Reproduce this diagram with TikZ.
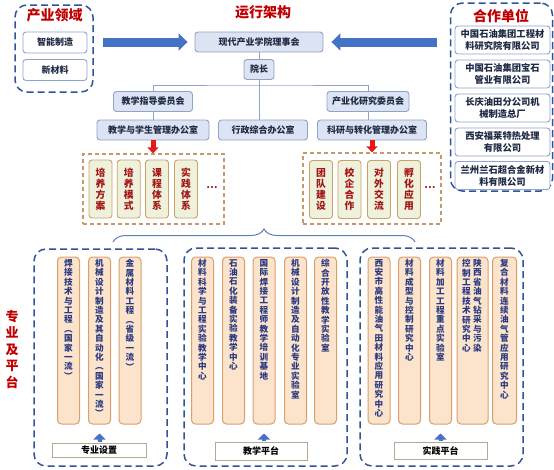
\documentclass[tikz,border=0pt]{standalone}
\usepackage{fontspec}
\setmainfont{Noto Sans CJK SC}
\usetikzlibrary{arrows.meta, positioning, decorations.pathreplacing}

\definecolor{dblue}{HTML}{2F5597}
\definecolor{boxfill}{HTML}{DCE3F2}
\definecolor{boxline}{HTML}{8FA3CC}
\definecolor{txtdark}{HTML}{1F2A44}
\definecolor{titlered}{HTML}{C00000}
\definecolor{arrowblue}{HTML}{4472C4}
\definecolor{arrowred}{HTML}{E81818}
\definecolor{orangedash}{HTML}{C59A6A}
\definecolor{taskfill}{HTML}{EEF2DC}
\definecolor{taskline}{HTML}{CDA066}
\definecolor{taskred}{HTML}{A31515}
\definecolor{platfill}{HTML}{FBE3CC}
\definecolor{platline}{HTML}{D9A06A}
\definecolor{plattxt}{HTML}{2B3A80}
\definecolor{baseline}{HTML}{B8A890}
\definecolor{braceblue}{HTML}{5B7DB8}

% characters stacked one above the other
\def\vst#1{\edef\vsttmp{#1}\expandafter\vstA\vsttmp\relax}
\def\vstA#1#2{#1\ifx\relax#2\else\\\expandafter\vstA\expandafter#2\fi}

\tikzset{
  dashframe/.style={draw=dblue, line width=1.5pt, dash pattern=on 7pt off 4pt, rounded corners=12pt},
  dashorange/.style={draw=orangedash, line width=1.2pt, dash pattern=on 4pt off 3pt},
  redtitle/.style={text=titlered, font=\fontsize{14}{16}\selectfont\bfseries},
  orgbox/.style={draw=boxline, fill=boxfill, line width=0.9pt, rounded corners=3pt, minimum height=20pt, inner sep=2pt, text=txtdark, font=\fontsize{9}{11}\selectfont\bfseries},
  itembox/.style={draw=boxline, fill=white, line width=0.9pt, rounded corners=3pt, minimum height=21pt, inner sep=2pt, text=txtdark, font=\fontsize{9}{11}\selectfont\bfseries},
  partner/.style={minimum width=95pt, minimum height=28pt, align=center, font=\fontsize{9.3}{12}\selectfont\bfseries},
  orgline/.style={draw=boxline, line width=1pt},
  bigarrow/.style={draw=arrowblue, line width=9pt, -{Triangle[width=17pt, length=9pt]}},
  redarrow/.style={draw=arrowred, line width=5pt, -{Triangle[width=11pt, length=6pt]}},
  uparrow/.style={draw=arrowblue, line width=4pt, -{Triangle[width=12pt, length=6pt]}},
  taskbox/.style={draw=taskline, fill=taskfill, line width=0.9pt, rounded corners=3pt, minimum width=23pt, minimum height=58pt, inner sep=0pt, align=center, text=taskred, font=\fontsize{9.8}{11}\selectfont\bfseries},
  taskdots/.style={text=taskred, font=\fontsize{10}{12}\selectfont\bfseries},
  platbox/.style={draw=platline, fill=platfill, line width=1pt, rounded corners=4pt, minimum width=22pt, minimum height=167pt},
  plattext/.style={inner sep=0pt, align=center, text=plattxt, font=\fontsize{8.6}{9.4}\selectfont\bfseries},
  basebox/.style={draw=baseline, fill=white, line width=0.8pt, minimum width=93pt, minimum height=16pt, inner sep=1pt, text=black, font=\fontsize{9}{11}\selectfont\bfseries},
  bracestyle/.style={draw=braceblue, line width=1pt, decorate, decoration={brace, amplitude=13pt}},
}

\begin{document}
\begin{tikzpicture}[x=1pt, y=-1pt]
  \useasboundingbox (0,0) rectangle (554,469);

  % Industry fields
  \node[dashframe, minimum width=78pt, minimum height=87pt] (cyly) at (54,48.5) {};
  \node[redtitle] (cylyT) at (54.5,15) {产业领域};
  \node[itembox, minimum width=64pt] (znzz) at (55,42.5) {智能制造};
  \node[itembox, minimum width=64pt] (xcl) at (55,70) {新材料};

  % Partners
  \node[dashframe, minimum width=102pt, minimum height=188pt] (hzdw) at (501.5,97) {};
  \node[redtitle] (hzdwT) at (501,16) {合作单位};
  \foreach \y/\t [count=\i] in {40/{中国石油集团工程材\\料研究院有限公司},
      74/{中国石油集团宝石\\管业有限公司}, 108/{长庆油田分公司机\\械制造总厂},
      142/{西安福莱特热处理\\有限公司}, 175.5/{兰州兰石超合金新材\\料有限公司}}
    \node[itembox, partner] (hz\i) at (502.5,\y) {\t};

  % Operating structure
  \node[redtitle] (yxjg) at (263,12) {运行架构};
  \node[orgbox, minimum width=128pt] (lsh) at (259,42) {现代产业学院理事会};
  \node[orgbox, minimum width=30pt] (yz) at (259,69.5) {院长};
  \node[orgbox, minimum width=79pt] (jxzd) at (153,101.5) {教学指导委员会};
  \node[orgbox, minimum width=112pt] (jxbg) at (153,130) {教学与学生管理办公室};
  \node[orgbox, minimum width=89pt] (xzbg) at (263,130) {行政综合办公室};
  \node[orgbox, minimum width=82pt] (cyh) at (368,101.5) {产业化研究委员会};
  \node[orgbox, minimum width=109pt] (kybg) at (372,130) {科研与转化管理办公室};

  \coordinate (bus) at (259,85);
  \draw[orgline] (lsh) -- (yz);
  \draw[orgline] (yz.south) -- (yz.south |- xzbg.north);
  \draw[orgline] (jxzd.north) |- (bus) -| (cyh.north);
  \draw[orgline] (jxzd) -- (jxbg);
  \draw[orgline] (cyh.south) -- (cyh.south |- kybg.north);

  \draw[bigarrow, shorten <=9pt, shorten >=7pt] (cyly.east |- lsh.west) -- (lsh.west);
  \draw[bigarrow, shorten <=13pt, shorten >=8pt] (hzdw.west |- lsh.east) -- (lsh.east);

  % Tasks
  \node[dashorange, minimum width=141pt, minimum height=70pt] (ob1) at (153.5,189) {};
  \node[dashorange, minimum width=138pt, minimum height=71pt] (ob2) at (372,188.5) {};
  \draw[redarrow] (jxbg.south) -- (jxbg.south |- ob1.north);
  \draw[redarrow] (kybg.south) -- (kybg.south |- ob2.north);

  \foreach \x/\t [count=\i] in {100.5/培养方案, 128.7/培养模式, 157/课程体系, 186/实践体系}
    \node[taskbox] (ta\i) at (\x,189) {\vst{\t}};
  \node[taskdots] (tdot1) at (212,188) {…};
  \foreach \x/\t [count=\i] in {321/团队建设, 349.5/校企合作, 379/对外交流, 409/孵化应用}
    \node[taskbox] (tb\i) at (\x,189.5) {\vst{\t}};
  \node[taskdots] (tdot2) at (430,188) {…};

  % Brace
  \coordinate (brL) at (113,242);
  \coordinate (brR) at (415,242);
  \draw[bracestyle] (brL) -- (brR);

  % Majors and platforms
  \node[text=titlered, align=center, font=\fontsize{13}{16.5}\selectfont\bfseries] (zyjpt) at (12,349) {\vst{专业及平台}};

  \node[dashframe, minimum width=133pt, minimum height=217pt] (g1) at (100.5,357.5) {};
  \node[dashframe, minimum width=163pt, minimum height=218pt] (g2) at (265.5,357) {};
  \node[dashframe, minimum width=163pt, minimum height=218pt] (g3) at (441.5,357) {};

  \foreach \x/\t [count=\i] in {68.5/焊接技术与工程︵国家一流︶,
      99.5/机械设计制造及其自动化︵国家一流︶, 130/金属材料工程︵省级一流︶} {
    \node[platbox] (p1\i) at (\x,340.5) {};
    \node[plattext, below=2.5pt of p1\i.north] (pt1\i) {\vst{\t}};
  }
  \foreach \x/\t [count=\i] in {202.5/材料科学与工程实验教学中心, 233.5/石油石化装备实验教学中心,
      264/国际焊接工程师教学培训基地, 295.5/机械设计制造及自动化专业实验室,
      325.5/综合开放性教学实验室} {
    \node[platbox] (p2\i) at (\x,340.5) {};
    \node[plattext, below=2.5pt of p2\i.north] (pt2\i) {\vst{\t}};
  }
  \foreach \x/\t [count=\i] in {379/西安市高性能油气田材料应用研究中心,
      409.5/材料成型与控制研究中心, 440.5/材料加工工程重点实验室} {
    \node[platbox] (p3\i) at (\x,340.5) {};
    \node[plattext, below=2.5pt of p3\i.north] (pt3\i) {\vst{\t}};
  }
  \node[platbox, minimum width=31pt] (p34) at (472.5,340.5) {};
  \node[plattext, below=2.5pt of p34.north, xshift=5pt] (pt34a) {\vst{陕西省油气钻采与污染}};
  \node[plattext, below=2.5pt of p34.north, xshift=-6pt] (pt34b) {\vst{控制工程技术研究中心}};
  \node[platbox, minimum width=24pt] (p35) at (504.5,340.5) {};
  \node[plattext, below=2.5pt of p35.north] (pt35) {\vst{复合材料连续油气管应用研究中心}};

  \node[basebox, minimum width=94pt, minimum height=14pt] (zysz) at (99,450) {专业设置};
  \node[basebox, minimum width=92pt, minimum height=18pt] (jxpt) at (261,451) {教学平台};
  \node[basebox, minimum height=17pt] (sjpt) at (440.5,450.5) {实践平台};

  \draw[uparrow, shorten <=1pt, shorten >=9pt] (zysz.north -| p12.south) -- (p12.south);
  \draw[uparrow, shorten <=1pt, shorten >=9pt] (jxpt.north -| p23.south) -- (p23.south);
  \draw[uparrow, shorten <=1pt, shorten >=9pt] (sjpt.north -| p33.south) -- (p33.south);
\end{tikzpicture}
\end{document}
